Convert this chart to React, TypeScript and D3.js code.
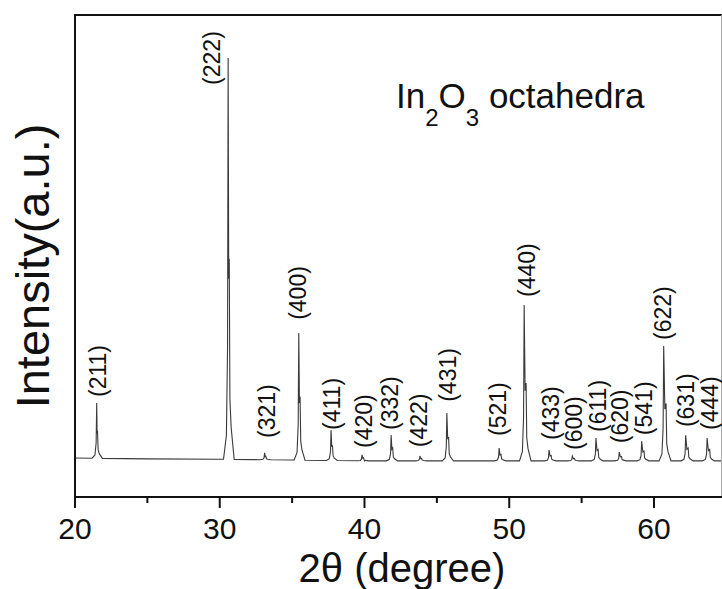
import React from "react";
import * as d3 from "d3";

// ---- data ----
const hkl = ["(211)", "(222)", "(321)", "(400)", "(411)", "(420)", "(332)", "(422)", "(431)", "(521)", "(440)", "(433)", "(600)", "(611)", "(620)", "(541)", "(622)", "(631)", "(444)"];
const peakPos = [21.5, 30.58, 33.1, 35.46, 37.69, 39.83, 41.84, 43.83, 45.69, 49.3, 51.03, 52.75, 54.36, 55.99, 57.6, 59.15, 60.67, 62.19, 63.67];
const peakInt = [234, 1093, 110, 408, 167, 105, 154, 102, 209, 122, 478, 117, 102, 147, 112, 139, 376, 154, 147];
const labelPos = [21.59, 29.46, 33.26, 35.41, 37.75, 39.97, 41.76, 43.76, 45.77, 49.22, 51.23, 52.88, 54.47, 56.13, 57.65, 59.31, 60.62, 62.21, 63.87];
const labelLevel = [249, 1026, 147, 441, 167, 122, 167, 124, 237, 152, 498, 142, 117, 162, 134, 154, 391, 174, 167];
const baseX = [20, 25, 30, 35, 40, 50, 60, 64.63];
const baseY = [97, 95, 94, 92, 90, 90, 90, 90];
const xTicks = [20, 30, 40, 50, 60];
const xMinorTicks = [25, 35, 45, 55];
const ka2Ratio = 0.5;

const W = 722;
const H = 589;
const M = { left: 75, right: 721, top: 15, bottom: 497 };
const FONT = "'Liberation Sans', Arial, Helvetica, sans-serif";

export default function App() {
  const x = d3.scaleLinear().domain([20, 64.63]).range([M.left, M.right]);
  const y = d3.scaleLinear().domain([0, 1200]).range([M.bottom, M.top]);
  const baseAt = d3.scaleLinear().domain(baseX).range(baseY);

  // build pattern points: baseline points + a peak profile template per reflection
  const pts: [number, number][] = baseX.map((b, i) => [b, baseY[i]]);
  peakPos.forEach((p, i) => {
    const b = baseAt(p);
    const h = peakInt[i] - b;
    const d = 0.283 * Math.tan(((p / 2) * Math.PI) / 180); // Cu Ka2 split
    const s = h * ka2Ratio;
    const tpl: [number, number][] = [
      [-0.32, 0], [-0.12, 0.06 * h], [-0.04, 0.28 * h], [0, h], [d * 0.5, s * 0.9],
      [d, s], [d + 0.045, 0.3 * s], [d + 0.13, 0.08 * h], [d + 0.34, 0],
    ];
    tpl.forEach(([dx, dy]) => pts.push([p + dx, baseAt(p + dx) + dy]));
  });
  pts.sort((a, b) => a[0] - b[0]);
  const clean = pts.filter((q) => q[0] >= 20 && q[0] <= 64.63);
  const line = d3.line<[number, number]>().x((q) => x(q[0])).y((q) => y(q[1]));

  return (
    <svg width={W} height={H} style={{ position: "absolute", left: 0, top: 0, background: "#fff" }} fontFamily={FONT}>
      <rect x={0} y={0} width={W} height={H} fill="#fff" />
      <path d={line(clean) || ""} fill="none" stroke="#3a3a3a" strokeWidth={1.1} />
      {/* frame */}
      <line x1={M.left} x2={W} y1={M.top} y2={M.top} stroke="#111" strokeWidth={2} />
      <line x1={M.right + 0.5} x2={M.right + 0.5} y1={M.top} y2={M.bottom} stroke="#aaa" strokeWidth={1} />
      <line x1={M.left} x2={M.left} y1={M.top - 1} y2={M.bottom + 1} stroke="#111" strokeWidth={2} />
      <line x1={M.left - 1} x2={W} y1={M.bottom} y2={M.bottom} stroke="#111" strokeWidth={2} />
      {xTicks.map((t) => (
        <g key={t}>
          <line x1={x(t)} x2={x(t)} y1={M.bottom} y2={M.bottom + 11} stroke="#111" strokeWidth={2} />
          <text x={x(t)} y={539} textAnchor="middle" fontSize={30} fill="#111">{t}</text>
        </g>
      ))}
      {xMinorTicks.map((t) => (
        <line key={t} x1={x(t)} x2={x(t)} y1={M.bottom} y2={M.bottom + 6} stroke="#111" strokeWidth={2} />
      ))}
      {/* peak labels */}
      {hkl.map((lab, i) => (
        <text key={lab} transform={`translate(${x(labelPos[i])},${y(labelLevel[i])}) rotate(-90)`} dy="0.35em" fontSize={23} fill="#111">
          {lab}
        </text>
      ))}
      {/* annotation */}
      <text x={396} y={108} fontSize={35} fill="#111">
        In<tspan fontSize={24} dy={18}>2</tspan><tspan dy={-18}>O</tspan><tspan fontSize={24} dy={18}>3</tspan><tspan dy={-18}> octahedra</tspan>
      </text>
      {/* axis titles */}
      <text x={402} y={582} textAnchor="middle" fontSize={40} fill="#111">2θ (degree)</text>
      <text transform={`translate(49,${266}) rotate(-90)`} textAnchor="middle" fontSize={47} fill="#111">Intensity(a.u.)</text>
    </svg>
  );
}
